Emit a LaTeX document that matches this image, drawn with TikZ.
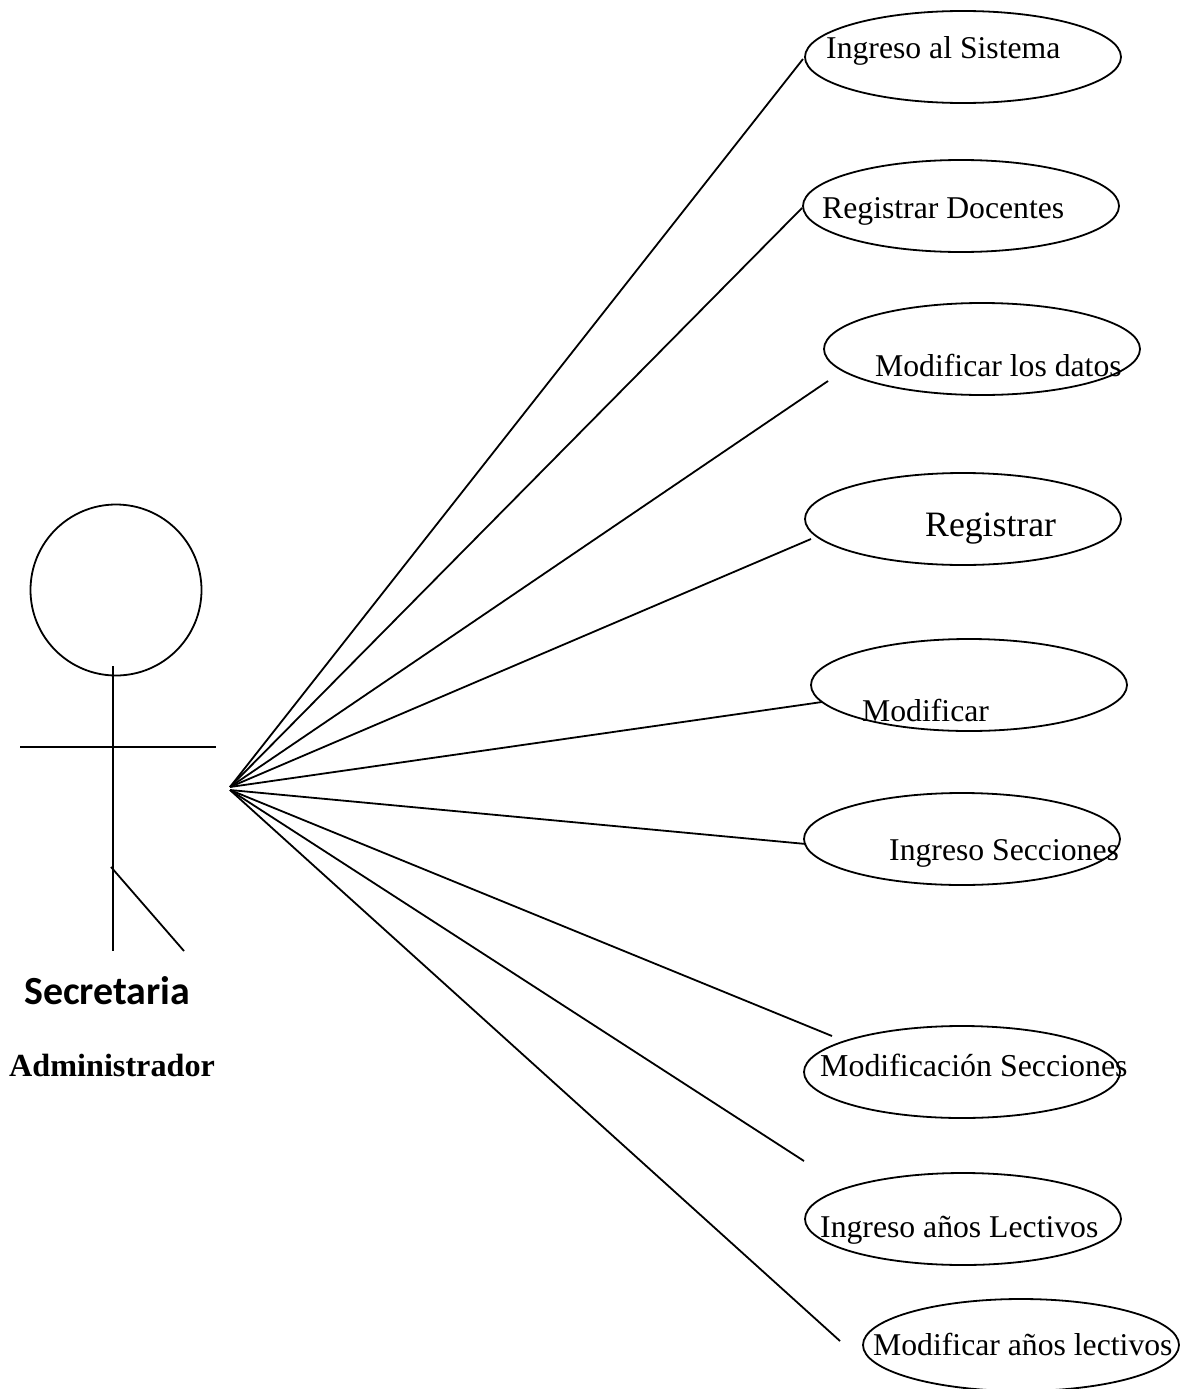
\documentclass[tikz,border=0pt]{standalone}
\usepackage{fontspec}
\setmainfont{Liberation Serif}
\newfontfamily\carlito{Carlito}
\usetikzlibrary{shapes.geometric}
\tikzset{
  usecase/.style={draw=black,line width=1.8pt,ellipse,minimum width=316pt,minimum height=92pt,inner sep=0pt},
  ln/.style={draw=black,line width=1.8pt},
  lbl/.style={inner sep=0pt,anchor=base west,font=\fontsize{31.7}{36}\selectfont},
}
\begin{document}
\begin{tikzpicture}[x=1pt,y=-1pt]
\useasboundingbox (0,0) rectangle (1189,1389);
\fill[white] (0,0) rectangle (1189,1389);
\node[usecase] (u1) at (963,57) {};
\node[usecase] (u2) at (961,206) {};
\node[usecase] (u3) at (982,349) {};
\node[usecase] (u4) at (963,519) {};
\node[usecase] (u5) at (969,685) {};
\node[usecase] (u6) at (962,839) {};
\node[usecase] (u7) at (962,1072) {};
\node[usecase] (u8) at (963,1219) {};
\node[usecase] (u9) at (1021,1345) {};
\node[lbl] (t1) at (826,59) {Ingreso al Sistema};
\node[lbl] (t2) at (822,218) {Registrar Docentes};
\node[lbl] (t3) at (875,376) {Modificar los datos};
\node[lbl,font=\fontsize{35.7}{40}\selectfont] (t4) at (925,536) {Registrar};
\node[lbl] (t5) at (862,721) {Modificar};
\node[lbl] (t6) at (889,860) {Ingreso Secciones};
\node[lbl,font=\fontsize{31.9}{36}\selectfont] (t7) at (820,1076) {Modificación Secciones};
\node[lbl] (t8) at (820,1237.5) {Ingreso años Lectivos};
\node[lbl] (t9) at (873,1355) {Modificar años lectivos};
% actor
\node[draw=black,line width=1.8pt,circle,minimum size=171pt,inner sep=0pt] (head) at (116,590) {};
\coordinate (neck) at (113,666);
\coordinate (foot) at (113,951);
\coordinate (hip) at (111,867);
\coordinate (foot2) at (184,951);
\coordinate (armL) at (20,747);
\coordinate (armR) at (216,747);
\draw[ln] (neck) -- (foot);
\draw[ln] (armL) -- (armR);
\draw[ln] (hip) -- (foot2);
\node[inner sep=0pt,anchor=base west,font=\carlito\bfseries\fontsize{39.9}{44}\selectfont] (sec) at (24,1004.5) {Secretaria};
\node[inner sep=0pt,anchor=base west,font=\bfseries\fontsize{32.2}{36}\selectfont] (adm) at (9,1076.5) {Administrador};
% connectors
\coordinate (hubU) at (230,787);
\coordinate (hubL) at (230,790);
\coordinate (e1) at (803,59);
\coordinate (e2) at (802,208);
\coordinate (e3) at (828,381);
\coordinate (e4) at (811,539);
\coordinate (e5) at (822,702);
\coordinate (e6) at (806,844);
\coordinate (e7) at (832,1036);
\coordinate (e8) at (804,1161);
\coordinate (e9) at (840,1341);
\foreach \i in {1,...,5} \draw[ln] (hubU) -- (e\i);
\foreach \i in {6,...,9} \draw[ln] (hubL) -- (e\i);
\end{tikzpicture}
\end{document}
